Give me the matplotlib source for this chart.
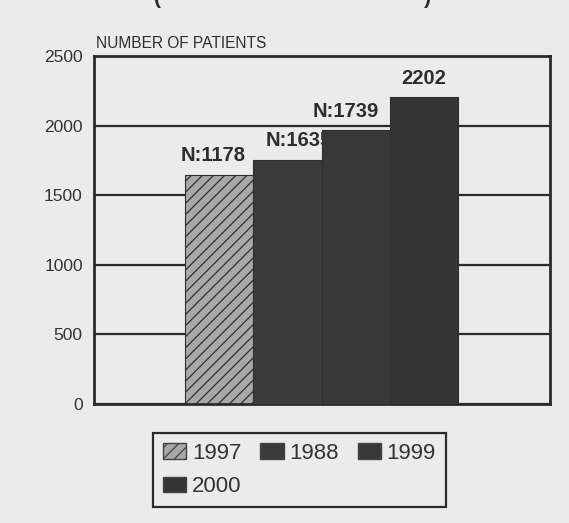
"""
Number of patients per year, bar chart recreated from a scanned figure.
Output: out.png (569x523)
"""

import matplotlib.pyplot as plt
from matplotlib.patches import Patch

years = ['1997', '1988', '1999', '2000']
patients = [1645, 1755, 1965, 2202]
bar_labels = ['N:1178', 'N:1635', 'N:1739', '2202']
yticks = [0, 500, 1000, 1500, 2000, 2500]

bg = '#ebebeb'
ink = '#2b2b2b'
face_colors = ['#a8a8a8', '#3b3b3b', '#383838', '#353535']
hatches = ['///', None, None, None]
label_dx = [-4, 8, -7, 0]   # small horizontal nudges of the value labels (points)

plt.rcParams['font.family'] = ['Liberation Sans', 'DejaVu Sans']
plt.rcParams['hatch.color'] = '#939393'
plt.rcParams['hatch.linewidth'] = 0.9

fig = plt.figure(figsize=(5.69, 5.23), dpi=100, facecolor=bg)
ax = fig.add_axes([0.165, 0.2275, 0.802, 0.6654], facecolor=bg)

# bars drawn left to right, each label sits just above its bar but under the next one
for i, (val, lab) in enumerate(zip(patients, bar_labels)):
    ax.bar(i, val, width=1.0, color=face_colors[i], hatch=hatches[i],
           edgecolor='#303030', linewidth=0.8, zorder=2 + 2 * i)
    ax.annotate(lab, (i, val), xytext=(label_dx[i], 7), textcoords='offset points',
                ha='center', va='bottom', fontsize=14.5, fontweight='bold',
                color='#2e2e2e', zorder=3 + 2 * i)

ax.set_xlim(-1.833, 4.848)
ax.set_ylim(0, 2500)
ax.set_yticks(yticks)
ax.set_xticks([])
ax.tick_params(axis='y', length=0, pad=8, labelsize=12.5, labelcolor='#333333')
ax.yaxis.grid(True, color=ink, linewidth=1.6)
ax.set_axisbelow(True)
for sp in ax.spines.values():
    sp.set_color(ink)
    sp.set_linewidth(2)

fig.text(0.169, 0.903, 'NUMBER OF PATIENTS', fontsize=11.2, color='#2e2e2e',
         ha='left', va='bottom')

# bottom of a title line that was cut off by the scan
fig.text(0.276, 0.993, '(', fontsize=15, fontweight='bold', color=ink,
         ha='center', va='baseline')
fig.text(0.752, 0.993, ')', fontsize=15, fontweight='bold', color=ink,
         ha='center', va='baseline')

# legend fills column by column, so reorder to read 1997 1988 1999 / 2000
order = [0, 3, 1, 2]
handles = [Patch(facecolor=face_colors[i], hatch=hatches[i],
                 edgecolor='#444444', linewidth=1.0) for i in order]
leg = fig.legend(handles, [years[i] for i in order], loc='upper left',
                 bbox_to_anchor=(0.269, 0.172), ncol=3, fontsize=16,
                 frameon=True, fancybox=False,
                 handlelength=1.05, handleheight=0.7, handletextpad=0.25,
                 columnspacing=0.85, labelspacing=0.55, borderpad=0.45,
                 borderaxespad=0.0, labelcolor='#333333')
leg.get_frame().set_edgecolor(ink)
leg.get_frame().set_linewidth(1.6)
leg.get_frame().set_facecolor(bg)
leg.get_frame().set_alpha(1)

fig.savefig('out.png', dpi=100, facecolor=bg)
